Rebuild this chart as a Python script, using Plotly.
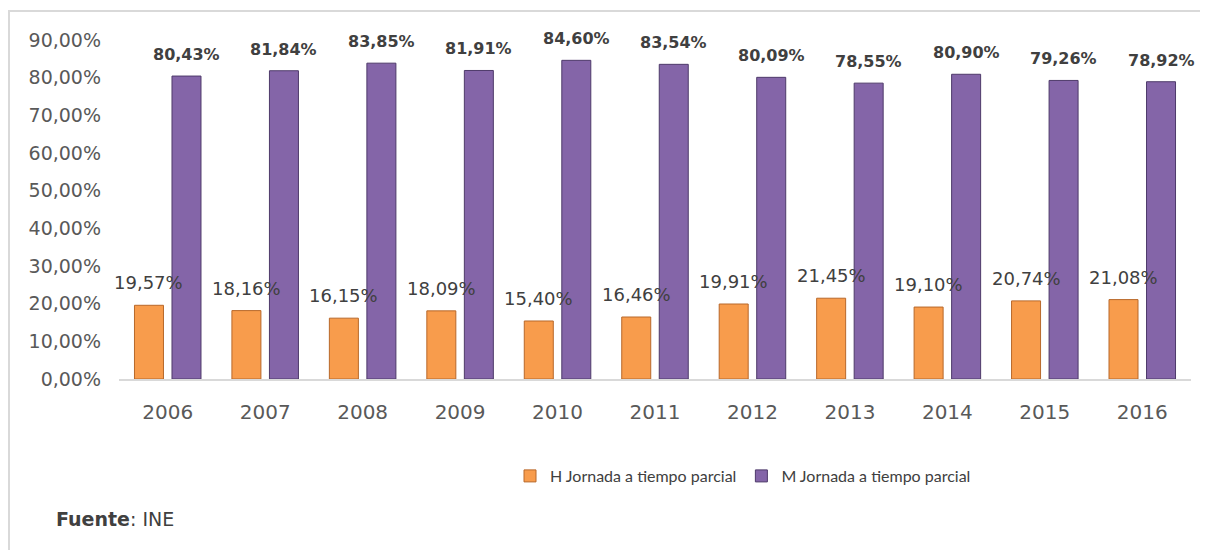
import plotly.graph_objects as go

years = ["2006", "2007", "2008", "2009", "2010", "2011", "2012", "2013", "2014", "2015", "2016"]
h_values = [19.57, 18.16, 16.15, 18.09, 15.40, 16.46, 19.91, 21.45, 19.10, 20.74, 21.08]
m_values = [80.43, 81.84, 83.85, 81.91, 84.60, 83.54, 80.09, 78.55, 80.90, 79.26, 78.92]
y_ticks = [0, 10, 20, 30, 40, 50, 60, 70, 80, 90]

def fmt(v):
    return f"{v:.2f}".replace(".", ",") + "%"

FONT = "DejaVu Sans"
LFONT = "Lato"
OFF = 8  # page body margin
W, H = 1200, 542
# desired page-pixel plot box
PL, PR, PT, PB = 119, 1191, 40, 379
L, T = PL - OFF, PT - OFF
R = W - (PR - OFF)
B = H - (PB - OFF)
pw, ph = W - L - R, H - T - B

def px(x):
    return (x - OFF - L) / pw

def py(y):
    return (H - B - (y - OFF)) / ph

BARGAP, BGG = 0.23, 0.227
slot = pw / len(years) * (1 - BARGAP) / 2

fig = go.Figure()
fig.add_trace(go.Bar(
    x=years, y=h_values, name="H Jornada a tiempo parcial",
    marker=dict(color="#F89C4C", line=dict(color="#B8682A", width=1)),
))
fig.add_trace(go.Bar(
    x=years, y=m_values, name="M Jornada a tiempo parcial",
    marker=dict(color="#8465A8", line=dict(color="#4E3A6A", width=1)),
))

annotations = []
for i, v in enumerate(h_values):
    annotations.append(dict(x=i, y=v, text=fmt(v), xref="x", yref="y", showarrow=False,
                            xshift=-slot / 2, yshift=10, yanchor="bottom",
                            font=dict(family=FONT, size=18, color="#404040")))
for i, v in enumerate(m_values):
    annotations.append(dict(x=i, y=v, text=f"<b>{fmt(v)}</b>", xref="x", yref="y", showarrow=False,
                            xshift=slot / 2, yshift=10, yanchor="bottom",
                            font=dict(family=FONT, size=16, color="#404040")))
annotations.append(dict(text="<b>Fuente</b>: INE", xref="paper", yref="paper", x=px(54), y=py(519),
                        xanchor="left", yanchor="middle", showarrow=False,
                        font=dict(family=FONT, size=19, color="#404040")))

fig.update_layout(
    width=W, height=H,
    margin=dict(l=L, r=R, t=T, b=B),
    paper_bgcolor="white", plot_bgcolor="white",
    barmode="group", bargap=BARGAP, bargroupgap=BGG,
    font=dict(family=FONT, size=19, color="#595959"),
    showlegend=True,
    legend=dict(orientation="h", x=px(510), y=py(476), xanchor="left", yanchor="middle",
                font=dict(family=LFONT, size=16, color="#404040"), itemwidth=30,
                traceorder="normal"),
    xaxis=dict(type="category", categoryorder="array", categoryarray=years,
               range=[-0.5, len(years) - 0.5],
               showgrid=False, showline=True, linecolor="#D9D9D9", linewidth=1.5,
               ticks="", ticklabelstandoff=14, tickfont=dict(size=20, color="#595959")),
    yaxis=dict(range=[0, 90], tickvals=y_ticks, ticktext=[fmt(v) for v in y_ticks],
               showgrid=False, zeroline=False, showline=False, ticklabelstandoff=17,
               tickfont=dict(size=19, color="#595959")),
    shapes=[
        dict(type="line", xref="paper", yref="paper", x0=px(8), x1=px(1210), y0=py(11), y1=py(11),
             line=dict(color="#D9D9D9", width=2)),
        dict(type="line", xref="paper", yref="paper", x0=px(9), x1=px(9), y0=py(11), y1=py(552),
             line=dict(color="#D9D9D9", width=2)),
    ],
    annotations=annotations,
)

fig.write_html("out.html")
